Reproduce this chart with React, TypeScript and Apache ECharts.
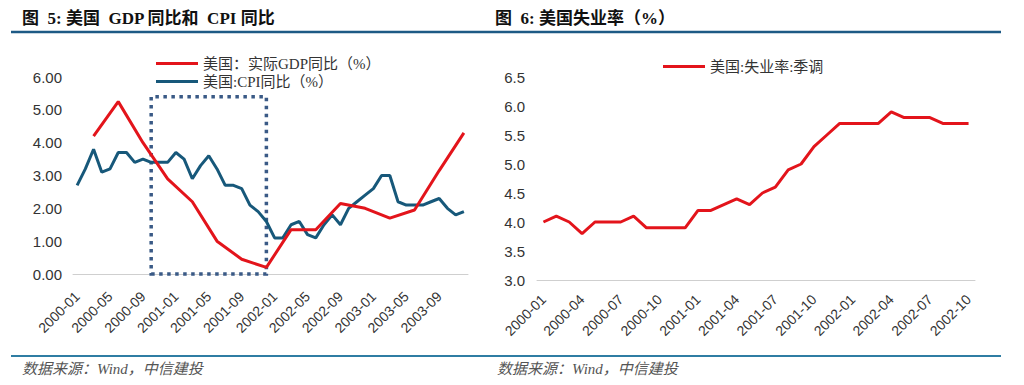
import React, { useEffect, useRef } from "react";
import * as echarts from "echarts";

function buildMonths(startYear: number, count: number): string[] {
  const out: string[] = [];
  for (let i = 0; i < count; i++) {
    const y = startYear + Math.floor(i / 12);
    const m = (i % 12) + 1;
    out.push(`${y}-${m < 10 ? "0" + m : m}`);
  }
  return out;
}

// Left chart: monthly categories 2000-01 .. 2003-12
const leftMonths = buildMonths(2000, 48);
const cpiYoY = [
  2.7, 3.2, 3.8, 3.1, 3.2, 3.7, 3.7, 3.4, 3.5, 3.4, 3.4, 3.4,
  3.7, 3.5, 2.9, 3.3, 3.6, 3.2, 2.7, 2.7, 2.6, 2.1, 1.9, 1.6,
  1.1, 1.1, 1.5, 1.6, 1.2, 1.1, 1.5, 1.8, 1.5, 2.0, 2.2, 2.4,
  2.6, 3.0, 3.0, 2.2, 2.1, 2.1, 2.1, 2.2, 2.3, 2.0, 1.8, 1.9,
];
const gdpQuarterMonths = [
  "2000-03", "2000-06", "2000-09", "2000-12",
  "2001-03", "2001-06", "2001-09", "2001-12",
  "2002-03", "2002-06", "2002-09", "2002-12",
  "2003-03", "2003-06", "2003-09", "2003-12",
];
const gdpYoY = [4.2, 5.25, 4.0, 2.9, 2.2, 1.0, 0.45, 0.2, 1.35, 1.35, 2.15, 2.0, 1.7, 1.95, 3.15, 4.3];
const highlightRange = ["2000-10", "2001-12"];
const highlightValues = [-0.08, 5.4];

// Right chart: monthly categories 2000-01 .. 2002-10
const rightMonths = buildMonths(2000, 34);
const unemploymentRate = [
  4.0, 4.1, 4.0, 3.8, 4.0, 4.0, 4.0, 4.1, 3.9, 3.9, 3.9, 3.9,
  4.2, 4.2, 4.3, 4.4, 4.3, 4.5, 4.6, 4.9, 5.0, 5.3, 5.5, 5.7,
  5.7, 5.7, 5.7, 5.9, 5.8, 5.8, 5.8, 5.7, 5.7, 5.7,
];

const leftTitle = "图  5: 美国  GDP 同比和  CPI 同比";
const rightTitle = "图  6: 美国失业率（%）";
const sourceText = "数据来源：Wind，中信建投";
const gdpName = "美国：实际GDP同比（%）";
const cpiName = "美国:CPI同比（%）";
const unempName = "美国:失业率:季调";

const RED = "#e3141b";
const BLUE = "#17587a";
const SANS = '"Liberation Sans", Arial, "Noto Sans CJK SC", sans-serif';
const SERIF = '"Liberation Serif", "Times New Roman", "Noto Sans CJK SC", serif';

export default function App() {
  const ref = useRef<HTMLDivElement>(null);

  useEffect(() => {
    document.body.style.margin = "0";
    if (!ref.current) return;
    const chart = echarts.init(ref.current, undefined, { renderer: "svg" });

    const axisLineStyle = { lineStyle: { color: "#cfcfcf", width: 1 } };
    const xLabel = {
      rotate: 45,
      fontSize: 14,
      color: "#333",
      fontFamily: SANS,
      margin: 20,
    };
    const yLabelBase = { fontSize: 15, color: "#333", fontFamily: SANS };
    const legendText = { fontSize: 15, color: "#333", fontFamily: SERIF, padding: [0, 0, 0, 0] };

    const option: any = {
      animation: false,
      backgroundColor: "#ffffff",
      grid: [
        { left: 73, right: 556, top: 77, bottom: 111 },
        { left: 537, right: 49, top: 77, bottom: 105 },
      ],
      legend: [
        {
          data: [gdpName, cpiName],
          orient: "vertical",
          left: 151,
          top: 51,
          icon: "rect",
          itemWidth: 42,
          itemHeight: 3,
          itemGap: 3,
          textStyle: legendText,
        },
        {
          data: [unempName],
          orient: "horizontal",
          left: 658,
          top: 54,
          icon: "rect",
          itemWidth: 42,
          itemHeight: 3,
          textStyle: legendText,
        },
      ],
      xAxis: [
        {
          type: "category",
          gridIndex: 0,
          data: leftMonths,
          boundaryGap: true,
          axisLine: axisLineStyle,
          axisTick: { interval: 3, length: 5, lineStyle: { color: "#cfcfcf" } },
          axisLabel: { ...xLabel, interval: 3 },
          splitLine: { show: false },
        },
        {
          type: "category",
          gridIndex: 1,
          data: rightMonths,
          boundaryGap: true,
          axisLine: axisLineStyle,
          axisTick: { interval: 2, length: 5, lineStyle: { color: "#cfcfcf" } },
          axisLabel: { ...xLabel, interval: 2, margin: 17 },
          splitLine: { show: false },
        },
      ],
      yAxis: [
        {
          type: "value",
          gridIndex: 0,
          min: 0,
          max: 6,
          interval: 1,
          axisLine: { show: false },
          axisTick: { show: false },
          splitLine: { show: false },
          axisLabel: { ...yLabelBase, margin: 11, formatter: (v: number) => v.toFixed(2) },
        },
        {
          type: "value",
          gridIndex: 1,
          min: 3,
          max: 6.5,
          interval: 0.5,
          axisLine: { show: false },
          axisTick: { show: false },
          splitLine: { show: false },
          axisLabel: { ...yLabelBase, margin: 12, formatter: (v: number) => v.toFixed(1) },
        },
      ],
      series: [
        {
          name: gdpName,
          type: "line",
          xAxisIndex: 0,
          yAxisIndex: 0,
          data: gdpQuarterMonths.map((m, i) => [m, gdpYoY[i]]),
          symbol: "none",
          clip: false,
          lineStyle: { color: RED, width: 3 },
          itemStyle: { color: RED },
          z: 3,
        },
        {
          name: cpiName,
          type: "line",
          xAxisIndex: 0,
          yAxisIndex: 0,
          data: cpiYoY,
          symbol: "none",
          clip: false,
          lineStyle: { color: BLUE, width: 3 },
          itemStyle: { color: BLUE },
          z: 2,
          markArea: {
            silent: true,
            label: { show: false },
            itemStyle: {
              color: "rgba(0,0,0,0)",
              borderColor: "#3a5a86",
              borderWidth: 3.5,
              borderType: [3.5, 4.5],
            },
            data: [
              [
                { xAxis: highlightRange[0], yAxis: highlightValues[0] },
                { xAxis: highlightRange[1], yAxis: highlightValues[1] },
              ],
            ],
          },
        },
        {
          name: unempName,
          type: "line",
          xAxisIndex: 1,
          yAxisIndex: 1,
          data: unemploymentRate,
          symbol: "none",
          lineStyle: { color: RED, width: 3 },
          itemStyle: { color: RED },
        },
      ],
      graphic: [
        {
          type: "text",
          left: 22,
          top: 10,
          style: { text: leftTitle, font: `bold 17px ${SERIF}`, fill: "#111" },
        },
        {
          type: "text",
          left: 495,
          top: 10,
          style: { text: rightTitle, font: `bold 17px ${SERIF}`, fill: "#111" },
        },
        {
          type: "line",
          shape: { x1: 11, y1: 32, x2: 1001, y2: 32 },
          style: { stroke: "#1d5a85", lineWidth: 2.5 },
        },
        {
          type: "line",
          shape: { x1: 11, y1: 356, x2: 1001, y2: 356 },
          style: { stroke: "#2f7da3", lineWidth: 2 },
        },
        {
          type: "text",
          left: 22,
          top: 361,
          style: { text: sourceText, font: `italic 15px ${SERIF}`, fill: "#555" },
        },
        {
          type: "text",
          left: 497,
          top: 361,
          style: { text: sourceText, font: `italic 15px ${SERIF}`, fill: "#555" },
        },
      ],
    };

    chart.setOption(option);
    return () => chart.dispose();
  }, []);

  return <div ref={ref} style={{ width: 1024, height: 385 }} />;
}
